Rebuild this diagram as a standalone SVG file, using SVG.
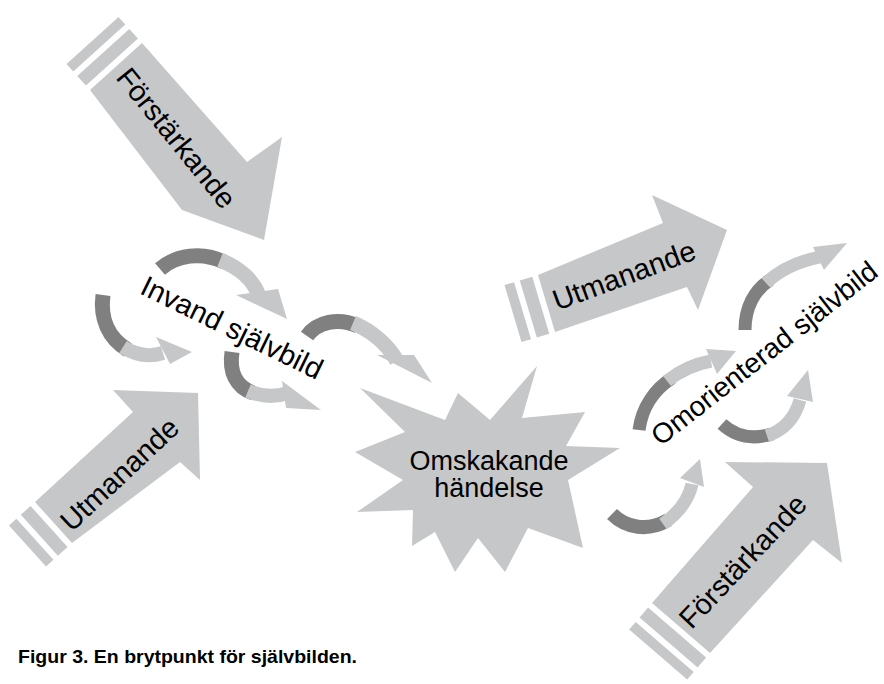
<svg xmlns="http://www.w3.org/2000/svg" width="884" height="684" viewBox="0 0 884 684">
<style>
.big{fill:#c6c7c9}
.lbl{font-family:"Liberation Sans",Arial,sans-serif;font-size:29px;fill:#000}
.halo{stroke:#fff;stroke-width:5px;paint-order:stroke;stroke-linejoin:round}
.dk{fill:none;stroke:#808080}
.lt{fill:none;stroke:#c6c7c9}
.hd{fill:#c6c7c9}
.cap{font-family:"Liberation Sans",Arial,sans-serif;font-weight:bold;font-size:19px;fill:#000}
</style>
<rect width="884" height="684" fill="#fff"/>

<g id="arrow-forstarkande-top">
<polygon class="big" points="90,90 142,43 247,162 282,137 264,240 182,210"/>
<polygon class="big" points="85.98,85.55 137.98,38.55 129.27,28.9 77.27,75.9"/>
<polygon class="big" points="73.25,71.45 125.25,24.45 118.55,17.03 66.55,64.03"/>
<text class="lbl" text-anchor="middle" transform="translate(176.5,138) rotate(51)" y="10">Förstärkande</text>
</g>

<g id="arrow-utmanande-left">
<polygon class="big" points="35,502 72,543 180,462 200,480 198,393 113,390 133,412"/>
<polygon class="big" points="30.54,506.02 67.54,547.02 57.88,555.73 20.88,514.73"/>
<polygon class="big" points="16.42,518.75 53.42,559.75 46,566.45 9,525.45"/>
<text class="lbl" text-anchor="middle" transform="translate(119.5,474.2) rotate(-43.2)" y="10">Utmanande</text>
</g>

<g id="arrow-utmanande-right">
<polygon class="big" points="538,275 555,332 687,287 698,310 727,230 652,195 663,223"/>
<polygon class="big" points="532.25,276.72 549.25,333.72 536.8,337.43 519.8,280.43"/>
<polygon class="big" points="514.05,282.15 531.05,339.15 521.47,342.01 504.47,285.01"/>
<text class="lbl" text-anchor="middle" transform="translate(624,275.3) rotate(-20.4)" y="10">Utmanande</text>
</g>

<g id="arrow-forstarkande-bottom">
<polygon class="big" points="652,603 710,653 813,540 842,563 827,463 725,462 753,487"/>
<polygon class="big" points="648.08,607.54 706.08,657.54 697.59,667.38 639.59,617.38"/>
<polygon class="big" points="635.67,621.93 693.67,671.93 687.14,679.5 629.14,629.5"/>
<text class="lbl" text-anchor="middle" transform="translate(742.8,561.2) rotate(-46.8)" y="10">Förstärkande</text>
</g>

<g id="node-omskakande">
<polygon class="big" points="537,366 522,418 585,412 566,446 620,448 568,480 583,548 528,528 505,572 478,538 455,572 435,532 412,546 413,510 357,512 403,480 355,452 405,432 360,388 445,420 458,393 490,420"/>
<text font-family="Liberation Sans, Arial, sans-serif" font-size="27" text-anchor="middle" x="489" y="470">Omskakande</text>
<text font-family="Liberation Sans, Arial, sans-serif" font-size="27" text-anchor="middle" x="489" y="497">händelse</text>
</g>

<g id="connectors">
<g id="cycle-invand">
<path class="dk" stroke-width="15" d="M160,269 C176,255 202,251 224,262"/>
<path class="lt" stroke-width="15" d="M220,260 C240,268 254,281 259,296"/>
<polygon class="hd" points="236,295 278,289 287,319"/>
<path class="dk" stroke-width="15" d="M103,295 C100,318 108,338 128,350"/>
<path class="lt" stroke-width="14" d="M123,347 C137,356 150,357 163,353"/>
<polygon class="hd" points="156,337 170,364 192,352"/>
<path class="dk" stroke-width="15" d="M232,352 C229,372 236,387 253,393"/>
<path class="lt" stroke-width="14" d="M248,391 C262,397 276,397 288,393"/>
<polygon class="hd" points="282,381 321,410 286,408"/>
<path class="dk" stroke-width="15" d="M307,336 C317,322 338,317 358,326"/>
<path class="lt" stroke-width="15" d="M353,323 C372,331 388,345 397,361"/>
<polygon class="hd" points="377,355 414,355 432,383"/>
</g>
<g id="cycle-omorienterad">
<path class="dk" stroke-width="13" d="M745,330 C745,308 754,290 770,280"/>
<path class="lt" stroke-width="13" d="M766,283 C782,268 800,261 820,257"/>
<polygon class="hd" points="813,247 824,270 847,243"/>
<path class="dk" stroke-width="13" d="M722,424 C735,436 752,440 772,434"/>
<path class="lt" stroke-width="13" d="M767,436 C784,430 795,418 800,400"/>
<polygon class="hd" points="787,396 813,402 808,370"/>
<path class="dk" stroke-width="13" d="M639,430 C642,407 655,389 672,378"/>
<path class="lt" stroke-width="13" d="M667,381 C681,370 695,364 711,361"/>
<polygon class="hd" points="706,349 717,374 736,351"/>
<path class="dk" stroke-width="14" d="M612,514 C626,528 648,532 668,520"/>
<path class="lt" stroke-width="13" d="M663,524 C680,512 689,498 692,484"/>
<polygon class="hd" points="680,478 704,487 700,459"/>
</g>
</g>

<g id="node-invand">
<text class="lbl halo" text-anchor="middle" transform="translate(232,327.5) rotate(26)" y="10">Invand självbild</text>
</g>
<g id="node-omorienterad">
<text class="lbl halo" text-anchor="middle" font-size="28" style="font-size:28px" transform="translate(764,353) rotate(-38.1)" y="10">Omorienterad självbild</text>
</g>

<text class="cap" x="18" y="663" textLength="339" lengthAdjust="spacingAndGlyphs">Figur 3. En brytpunkt för självbilden.</text>
</svg>
